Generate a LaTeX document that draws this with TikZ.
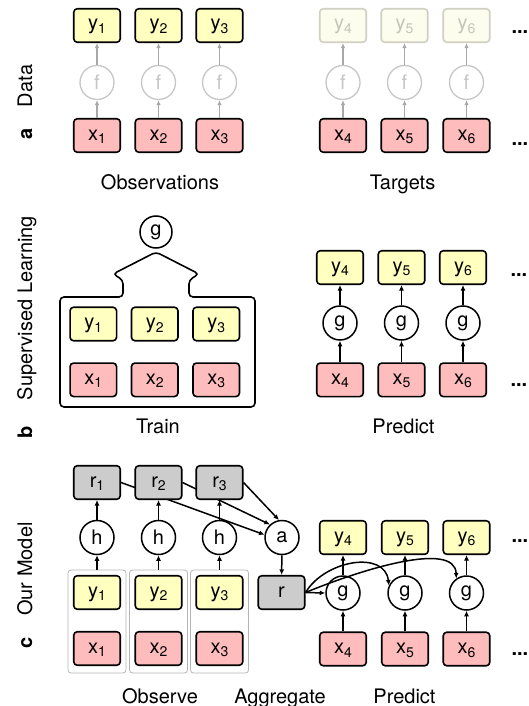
\documentclass[tikz,border=0pt]{standalone}
\usepackage{fontspec}
\setmainfont{TeX Gyre Heros}
\usetikzlibrary{arrows.meta,backgrounds}
\definecolor{yel}{HTML}{FFFFC0}
\definecolor{pnk}{HTML}{FFBCBC}
\definecolor{gry}{HTML}{CCCCCC}
\definecolor{fyel}{HTML}{FDFDEE}
\definecolor{fline}{HTML}{CFCFC2}
\definecolor{ftext}{HTML}{C4C4BA}
\definecolor{fcirc}{HTML}{C6C6C6}
\definecolor{farr}{HTML}{A8A8A8}
\definecolor{grpline}{HTML}{B4B4B4}
\newcommand{\sbs}[1]{\raisebox{-3.5pt}{\fontsize{14}{14}\selectfont #1}}
\newcommand{\bigf}{\fontsize{20}{24}\selectfont}
\begin{document}
\begin{tikzpicture}[x=1pt, y=-1pt,
  box/.style={draw, line width=1.6pt, rounded corners=3.5pt, minimum width=46.5pt, minimum height=33.5pt, inner sep=0pt, text height=11.5pt, text depth=2.5pt, font=\bigf},
  ybox/.style={box, fill=yel},
  xbox/.style={box, fill=pnk},
  rbox/.style={box, fill=gry},
  fbox/.style={box, fill=fyel, draw=fline, text=ftext},
  fn/.style={circle, draw, line width=1.5pt, fill=white, minimum size=34pt, inner sep=0pt, font=\bigf},
  fnf/.style={fn, draw=fcirc, text=fcirc, line width=1.3pt},
  arr/.style={-{Latex[length=5.5pt,width=5pt]}, line width=1.5pt},
  farrow/.style={-{Latex[length=5pt,width=4.5pt]}, line width=1.2pt, draw=farr},
  grp/.style={draw=grpline, line width=0.8pt, rounded corners=3pt, minimum width=58pt, minimum height=103pt, inner sep=0pt},
  lab/.style={font=\bigf, anchor=base},
  side/.style={font=\bigf, anchor=base, rotate=90},
  sideb/.style={font=\bigf\bfseries, anchor=base, rotate=90},
  dotsn/.style={font=\bigf\bfseries, anchor=base west}
]
\useasboundingbox (0,0) rectangle (529,706);

% ---------------- panel a ----------------
\foreach \i/\xx in {1/97,2/158.5,3/219.5} {
  \node[ybox] (ya\i) at (\xx,25.5) {y\sbs{\i}};
  \node[fnf] (fa\i) at (\xx,82.5) {f};
  \node[xbox] (xa\i) at (\xx,135.5) {x\sbs{\i}};
  \draw[farrow] (xa\i) -- (fa\i);
  \draw[farrow] (fa\i) -- (ya\i);
}
\foreach \i/\xx in {4/343,5/404.5,6/466.5} {
  \node[fbox] (ya\i) at (\xx,25.5) {y\sbs{\i}};
  \node[fnf] (fa\i) at (\xx,82.5) {f};
  \node[xbox] (xa\i) at (\xx,135.5) {x\sbs{\i}};
  \draw[farrow] (xa\i) -- (fa\i);
  \draw[farrow] (fa\i) -- (ya\i);
}
\node[dotsn] (da1) at (508,33.5) {...};
\node[dotsn] (da2) at (508,145) {...};
\node[lab] (obs) at (160,189) {Observations};
\node[lab] (tgt) at (402.5,189) {Targets};
\node[side] (ldata) at (32,86) {Data};
\node[sideb] (la) at (32,134) {a};

% ---------------- panel b ----------------
\node[fn, minimum size=32pt] (gB) at (156,232) {g};
\draw[line width=1.6pt, rounded corners=4pt]
  (156,252) -- (199,274) -- (189,280) -- (189,297) -- (255,297) -- (255,407)
  -- (60,407) -- (60,297) -- (123,297) -- (123,280) -- (113,274) -- cycle;
\foreach \i/\xx in {1/93.3,2/154.7,3/216.2} {
  \node[ybox] (yb\i) at (\xx,324) {y\sbs{\i}};
  \node[xbox] (xb\i) at (\xx,379.8) {x\sbs{\i}};
}
\foreach \i/\xx in {4/340,5/401.5,6/463} {
  \node[ybox] (yb\i) at (\xx,267.5) {y\sbs{\i}};
  \node[fn] (gb\i) at (\xx,323) {g};
  \node[xbox] (xb\i) at (\xx,379.8) {x\sbs{\i}};
  \draw[arr] (xb\i) -- (gb\i);
  \draw[arr] (gb\i) -- (yb\i);
}
\node[dotsn] (db1) at (507,276) {...};
\node[dotsn] (db2) at (507,386) {...};
\node[lab] (train) at (158,433) {Train};
\node[lab] (predb) at (403.5,433) {Predict};
\node[side] (lsup) at (32,308) {Supervised Learning};
\node[sideb] (lb) at (32,432) {b};

% ---------------- panel c ----------------
\foreach \i/\xx in {1/97,2/158.5,3/219.5} {
  \node[grp] (gp\i) at (\xx,621.5) {};
  \node[ybox] (yc\i) at (\xx,592.5) {y\sbs{\i}};
  \node[xbox] (xc\i) at (\xx,648.5) {x\sbs{\i}};
  \node[fn] (hc\i) at (\xx,537.5) {h};
  \node[rbox] (rc\i) at (\xx,482.5) {r\sbs{\i}};
  \draw[arr] (gp\i.north) -- (hc\i);
  \draw[arr] (hc\i) -- (rc\i);
}
\node[fn] (ag) at (282,537.5) {a};
\node[rbox] (rr) at (281.5,592.5) {r};
\begin{pgfonlayer}{background}
  \draw[arr] (rc1.east) -- (ag.171);
  \draw[arr] (rc2.east) -- (ag.133);
\end{pgfonlayer}
\draw[arr] (rc3.east) -- (ag.100);
\draw[arr] (ag) -- (rr);
\foreach \i/\xx in {4/343,5/405,6/466.5} {
  \node[ybox] (yc\i) at (\xx,537.5) {y\sbs{\i}};
  \node[fn] (gc\i) at (\xx,593) {g};
  \node[xbox] (xc\i) at (\xx,649) {x\sbs{\i}};
  \draw[arr] (xc\i) -- (gc\i);
  \draw[arr] (gc\i) -- (yc\i);
}
\draw[arr] (rr.east) -- (gc4.west);
\draw[arr] (rr.east) .. controls (325,560) and (385,550) .. (gc5.155);
\draw[arr] (rr.east) .. controls (360,570) and (455,540) .. (gc6.125);
\node[dotsn] (dc1) at (508,542) {...};
\node[dotsn] (dc2) at (508,655) {...};
\node[lab] (observe) at (160,703) {Observe};
\node[lab] (aggr) at (280,703) {Aggregate};
\node[lab] (predc) at (404.5,703) {Predict};
\node[side] (lmodel) at (32,569) {Our Model};
\node[sideb] (lc) at (32,643) {c};
\end{tikzpicture}
\end{document}
